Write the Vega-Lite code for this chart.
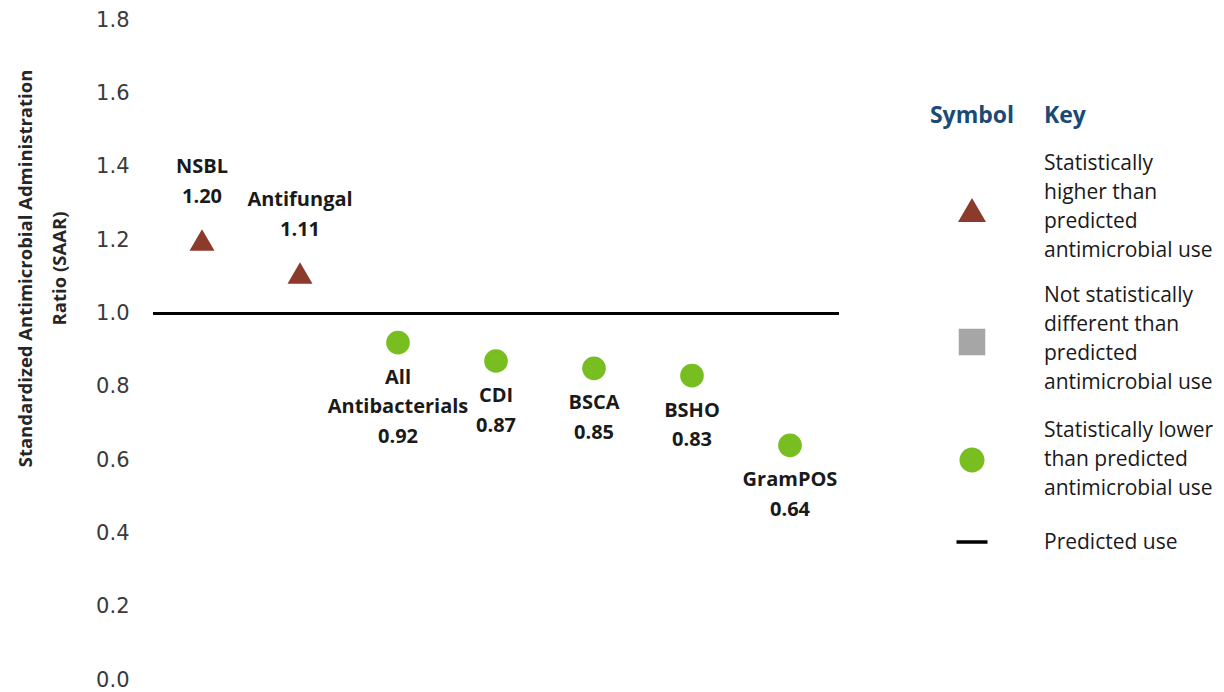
{
  "$schema": "https://vega.github.io/schema/vega-lite/v6.json",
  "padding": {"left": 16, "top": 9, "right": 0, "bottom": 0},
  "spacing": 62,
  "config": {"view": {"stroke": null}, "font": "Open Sans"},
  "resolve": {"scale": {"color": "independent", "shape": "independent", "size": "independent"}},
  "hconcat": [
    {
      "width": 686,
      "height": 660,
      "data": {"values": [
        {"cat": "NSBL", "val": 1.20, "label": "NSBL\n1.20", "grp": "higher"},
        {"cat": "Antifungal", "val": 1.11, "label": "Antifungal\n1.11", "grp": "higher"},
        {"cat": "All Antibacterials", "val": 0.92, "label": "All\nAntibacterials\n0.92", "grp": "lower"},
        {"cat": "CDI", "val": 0.87, "label": "CDI\n0.87", "grp": "lower"},
        {"cat": "BSCA", "val": 0.85, "label": "BSCA\n0.85", "grp": "lower"},
        {"cat": "BSHO", "val": 0.83, "label": "BSHO\n0.83", "grp": "lower"},
        {"cat": "GramPOS", "val": 0.64, "label": "GramPOS\n0.64", "grp": "lower"}
      ]},
      "encoding": {
        "x": {"field": "cat", "type": "nominal", "sort": null, "axis": null, "scale": {"type": "point", "padding": 0.5}},
        "y": {"field": "val", "type": "quantitative",
          "scale": {"domain": [0, 1.8], "nice": false, "zero": true},
          "axis": {"values": [0, 0.2, 0.4, 0.6, 0.8, 1.0, 1.2, 1.4, 1.6, 1.8], "format": ".1f",
            "ticks": false, "domain": false, "grid": false,
            "labelFont": "DejaVu Sans", "labelFontSize": 21, "labelColor": "#3a3a3a", "labelPadding": 24,
            "title": ["Standardized Antimicrobial Administration", "Ratio (SAAR)"],
            "titleFont": "Open Sans", "titleFontSize": 18.5, "titleFontWeight": "bold", "titleColor": "#262626",
            "titlePadding": 26, "titleLineHeight": 34, "titleY": 248}}
      },
      "layer": [
        {"mark": {"type": "rule", "stroke": "#000000", "strokeWidth": 2.5}, "encoding": {"x": {"value": 0}, "x2": {"value": 686}, "y": {"datum": 1.0}}},
        {"mark": {"type": "point", "filled": true, "opacity": 1},
          "encoding": {
            "shape": {"field": "grp", "type": "nominal", "legend": null, "scale": {"domain": ["higher", "lower"], "range": ["triangle-up", "circle"]}},
            "color": {"field": "grp", "type": "nominal", "legend": null, "scale": {"domain": ["higher", "lower"], "range": ["#8B3A2B", "#78BE21"]}},
            "size": {"field": "grp", "type": "nominal", "legend": null, "scale": {"domain": ["higher", "lower"], "range": [625, 560]}}
          }},
        {"transform": [{"filter": "datum.grp === 'higher'"}],
          "mark": {"type": "text", "baseline": "bottom", "dy": -63, "fontWeight": "bold", "fontSize": 20, "lineHeight": 29.5, "color": "#1a1a1a", "lineBreak": "\n"},
          "encoding": {"text": {"field": "label"}}},
        {"transform": [{"filter": "datum.grp === 'lower'"}],
          "mark": {"type": "text", "baseline": "top", "dy": 25, "fontWeight": "bold", "fontSize": 20, "lineHeight": 29.5, "color": "#1a1a1a", "lineBreak": "\n"},
          "encoding": {"text": {"field": "label"}}}
      ]
    },
    {
      "width": 300,
      "height": 660,
      "data": {"values": [
        {"col": "Symbol", "order": 0, "text": "Symbol", "kind": "header"},
        {"col": "Key", "order": 0, "text": "Key", "kind": "header"},
        {"col": "Symbol", "order": 1, "grp": "higher", "kind": "symbol"},
        {"col": "Symbol", "order": 2, "grp": "notsig", "kind": "symbol"},
        {"col": "Symbol", "order": 3, "grp": "lower", "kind": "symbol"},
        {"col": "Symbol", "order": 4, "grp": "predicted", "kind": "line"},
        {"col": "Key", "order": 1, "text": "Statistically\nhigher than\npredicted\nantimicrobial use", "kind": "key"},
        {"col": "Key", "order": 2, "text": "Not statistically\ndifferent than\npredicted\nantimicrobial use", "kind": "key"},
        {"col": "Key", "order": 3, "text": "Statistically lower\nthan predicted\nantimicrobial use", "kind": "key"},
        {"col": "Key", "order": 4, "text": "Predicted use", "kind": "key"}
      ]},
      "encoding": {
        "x": {"field": "col", "type": "nominal", "axis": null, "scale": {"type": "point", "domain": ["Symbol", "Key"], "range": [69, 141], "padding": 0}},
        "y": {"field": "order", "type": "quantitative", "axis": null, "scale": {"domain": [0, 1, 2, 3, 4], "range": [96, 190, 322, 440, 522]}}
      },
      "layer": [
        {
          "transform": [{"filter": "datum.kind === 'header' && datum.col === 'Symbol'"}],
          "mark": {"type": "text", "fontWeight": "bold", "fontSize": 23, "color": "#1B4A76", "baseline": "middle", "align": "center"},
          "encoding": {"text": {"field": "text"}}
        },
        {
          "transform": [{"filter": "datum.kind === 'header' && datum.col === 'Key'"}],
          "mark": {"type": "text", "fontWeight": "bold", "fontSize": 23, "color": "#1B4A76", "baseline": "middle", "align": "left"},
          "encoding": {"text": {"field": "text"}}
        },
        {
          "transform": [{"filter": "datum.kind === 'symbol'"}],
          "mark": {"type": "point", "filled": true, "opacity": 1},
          "encoding": {
            "shape": {"field": "grp", "type": "nominal", "legend": null, "scale": {"domain": ["higher", "notsig", "lower"], "range": ["triangle-up", "square", "circle"]}},
            "color": {"field": "grp", "type": "nominal", "legend": null, "scale": {"domain": ["higher", "notsig", "lower"], "range": ["#8B3A2B", "#A6A6A6", "#78BE21"]}},
            "size": {"field": "grp", "type": "nominal", "legend": null, "scale": {"domain": ["higher", "notsig", "lower"], "range": [784, 625, 500]}}
          }
        },
        {
          "transform": [{"filter": "datum.kind === 'line'"}],
          "mark": {"type": "point", "shape": "stroke", "filled": false, "stroke": "#000000", "strokeWidth": 3.5, "size": 961, "opacity": 1}
        },
        {
          "transform": [{"filter": "datum.kind === 'key' && datum.order <= 2"}],
          "mark": {"type": "text", "align": "left", "baseline": "middle", "dy": -46, "fontSize": 21, "lineHeight": 29, "color": "#1a1a1a", "lineBreak": "\n"},
          "encoding": {"text": {"field": "text"}}
        },
        {
          "transform": [{"filter": "datum.kind === 'key' && datum.order === 3"}],
          "mark": {"type": "text", "align": "left", "baseline": "middle", "dy": -29, "fontSize": 21, "lineHeight": 29, "color": "#1a1a1a", "lineBreak": "\n"},
          "encoding": {"text": {"field": "text"}}
        },
        {
          "transform": [{"filter": "datum.kind === 'key' && datum.order === 4"}],
          "mark": {"type": "text", "align": "left", "baseline": "middle", "dy": 1, "fontSize": 21, "lineHeight": 29, "color": "#1a1a1a", "lineBreak": "\n"},
          "encoding": {"text": {"field": "text"}}
        }
      ]
    }
  ]
}
